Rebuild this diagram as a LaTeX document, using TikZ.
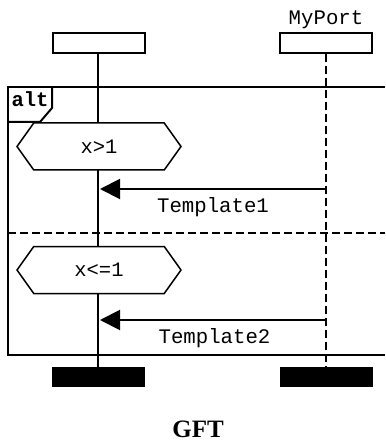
\documentclass[tikz,border=0pt]{standalone}
\usepackage{fontspec}
\setmainfont{Liberation Serif}
\setmonofont{Liberation Mono}
\usetikzlibrary{shapes.symbols,arrows.meta}

\tikzset{
  inst/.style={draw, line width=2pt, minimum width=92pt, minimum height=20pt, inner sep=0pt},
  instend/.style={fill=black, minimum width=93pt, minimum height=20pt, inner sep=0pt},
  guard/.style={draw, fill=white, line width=1.5pt, shape=signal, signal to=west and east,
    signal pointer angle=109, minimum width=164pt, minimum height=47pt, inner sep=0pt,
    font=\ttfamily\fontsize{20.5}{20}\selectfont},
  msg/.style={line width=2pt, -{Triangle[length=20pt,width=20pt]}},
  lbl/.style={font=\ttfamily\fontsize{20.7}{20}\selectfont, inner sep=0pt, anchor=base}
}

\begin{document}
\begin{tikzpicture}[x=1pt,y=-1pt]
\path[use as bounding box] (0,0) rectangle (385,443);
% instances
\node[inst] (i1) at (99,43) {};
\node[inst] (i2) at (325.5,43) {};
\node[lbl] (i2name) at (326,25) {MyPort};
\node[instend] (e1) at (98,377) {};
\node[instend] (e2) at (326.5,377) {};
\draw[line width=2pt] (i1.south -| 98,0) -- (e1.north -| 98,0);
\draw[line width=1.7pt, dash pattern=on 8pt off 4pt] (i2.south -| 326,0) -- (e2.north -| 326,0);
% alt frame
\draw[line width=2pt] (385,87) -- (8,87) -- (8,355) -- (385,355);
\draw[line width=2pt] (8,122) -- (40,122) -- (52,108) -- (52,87);
\node[font=\ttfamily\bfseries\fontsize{20.5}{20}\selectfont, inner sep=0pt, anchor=base] (altkw) at (30,107) {alt};
\draw[line width=1.7pt, dash pattern=on 8pt off 4pt] (8,233) -- (385,233);
% first operand
\node[guard] (g1) at (99,146.5) {x>1};
\coordinate (s1) at (326,189);
\coordinate (r1) at (100,189);
\draw[msg] (s1) -- (r1);
\node[lbl] (t1) at (213,212) {Template1};
% second operand
\node[guard] (g2) at (99,270) {x<=1};
\coordinate (s2) at (326,320);
\coordinate (r2) at (100,320);
\draw[msg] (s2) -- (r2);
\node[lbl] (t2) at (214.5,343) {Template2};
% caption
\node[font=\bfseries\fontsize{25}{25}\selectfont, inner sep=0pt, anchor=base] (cap) at (198,437) {GFT};
\end{tikzpicture}
\end{document}
